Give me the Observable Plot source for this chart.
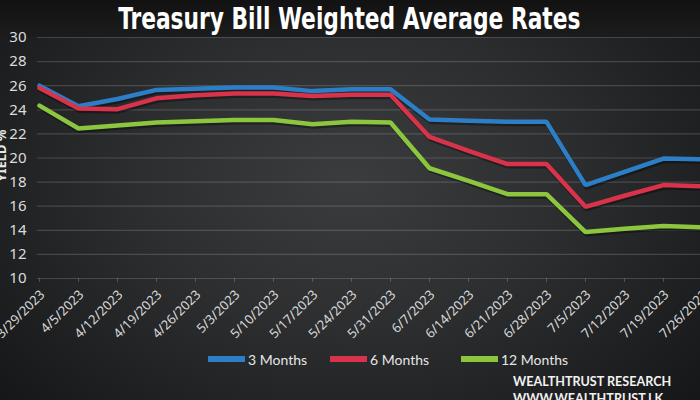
<!DOCTYPE html>
<html><head><meta charset="utf-8">
<script src="https://cdn.jsdelivr.net/npm/d3@7"></script>
<script src="https://cdn.jsdelivr.net/npm/@observablehq/plot@0.6"></script>
<style>
html,body{margin:0;padding:0;background:#161718;}
#wrap{position:relative;width:700px;height:400px;overflow:hidden;
  background: radial-gradient(ellipse 460px 330px at 350px 180px, #3a3c3e 0%, #2c2e30 45%, #161718 100%);
  font-family: Lato, "Open Sans", sans-serif;}
#titlebar{position:absolute;left:0;top:0;width:700px;height:37px;background:linear-gradient(#121212,#1c1c1c);}
#title{position:absolute;left:0;top:0px;width:700px;text-align:center;color:#fff;
  font:bold 31px "DejaVu Sans Condensed","Liberation Sans Narrow",sans-serif;transform:scaleX(0.78);transform-origin:347px 0;}
#chart{position:absolute;left:0;top:0;}
#legend{position:absolute;top:350px;left:0;width:700px;height:20px;color:#e6e6e6;font-size:14px;}
.item{position:absolute;top:0;display:flex;align-items:center;height:18px;}
.sw{display:inline-block;width:37px;height:6px;margin-right:3px;}
#foot{position:absolute;left:513px;top:373px;color:#f2f2f2;font:bold 12.6px Lato,sans-serif;line-height:17px;}
</style>
</head><body>
<div id="wrap">
  <div id="titlebar"></div>
  <div id="chart"></div>
  <div id="title">Treasury Bill Weighted Average Rates</div>
  <div id="legend"></div>
  <div id="foot">WEALTHTRUST RESEARCH<br>WWW.WEALTHTRUST.LK</div>
</div>
<script>
const dates = ["3/29/2023","4/5/2023","4/12/2023","4/19/2023","4/26/2023","5/3/2023","5/10/2023","5/17/2023","5/24/2023","5/31/2023","6/7/2023","6/14/2023","6/21/2023","6/28/2023","7/5/2023","7/12/2023","7/19/2023","7/26/2023"];
const months3  = [26.0,24.3,24.9,25.65,25.75,25.85,25.85,25.55,25.7,25.7,23.2,23.1,23.0,23.0,17.75,18.85,19.95,19.9];
const months6  = [25.8,24.1,24.05,24.95,25.2,25.35,25.35,25.15,25.25,25.25,21.75,20.6,19.5,19.5,15.95,16.87,17.75,17.65];
const months12 = [24.35,22.45,22.7,22.95,23.05,23.15,23.15,22.8,23.0,22.95,19.15,18.1,17.0,17.0,13.85,14.12,14.35,14.25];
const seriesNames = ["3 Months","6 Months","12 Months"];
const seriesColors = ["#2c7fc6","#d8334a","#8cc63f"];
const yTicks = [10,12,14,16,18,20,22,24,26,28,30];

const allSeries = [months3, months6, months12];
const rows = allSeries.flatMap((vals, i) => vals.map((v, j) => ({date: dates[j], value: v, series: seriesNames[i]})));
const firstDate = () => dates[0];
const lastDate = () => dates[dates.length - 1];

const chart = Plot.plot({
  width: 700, height: 400,
  style: {background: "transparent", overflow: "hidden"},
  x: {type: "point", domain: dates, range: [39, 702], padding: 0, axis: null},
  y: {type: "linear", domain: [10, 30], range: [278, 37], axis: null},
  color: {domain: seriesNames, range: seriesColors},
  marks: [
    Plot.ruleY(yTicks, {y: d => d, x1: firstDate, x2: lastDate, stroke: "#d0d0d0", strokeOpacity: 0.2, strokeWidth: 1.2, dx: -2}),
    Plot.ruleX(dates, {x: d => d, y1: () => 10, y2: () => 10, stroke: "#cfcfcf", strokeOpacity: 0.25, insetBottom: -4}),
    Plot.text(yTicks, {x: firstDate, y: d => d, text: d => String(d), textAnchor: "end", dx: -13, fill: "#dcdcdc", fontSize: 15}),
    Plot.text(dates, {x: d => d, y: () => 10, text: d => d, rotate: -45, textAnchor: "end", dx: 3, dy: 14, fill: "#d8d8d8", fontSize: 13}),
    Plot.line(rows, {x: "date", y: "value", z: "series", stroke: "#000", strokeOpacity: 0.35, strokeWidth: 5, dy: 2, dx: 1}),
    Plot.line(rows, {x: "date", y: "value", z: "series", stroke: "series", strokeWidth: 4.5, strokeLinejoin: "miter"}),
    Plot.text(["YIELD %"], {x: firstDate, y: () => 20.2, text: d => d, rotate: -90, dx: -38, fill: "#e8e8e8", fontSize: 13, fontWeight: "bold"})
  ]
});
document.getElementById("chart").appendChild(chart);

const legend = document.getElementById("legend");
const legendX = [208, 330, 461];
seriesNames.forEach((n, i) => {
  const it = document.createElement("div");
  it.className = "item";
  it.style.left = legendX[i] + "px";
  it.innerHTML = `<span class="sw" style="background:${seriesColors[i]}"></span><span>${n}</span>`;
  legend.appendChild(it);
});
</script>
</body></html>
